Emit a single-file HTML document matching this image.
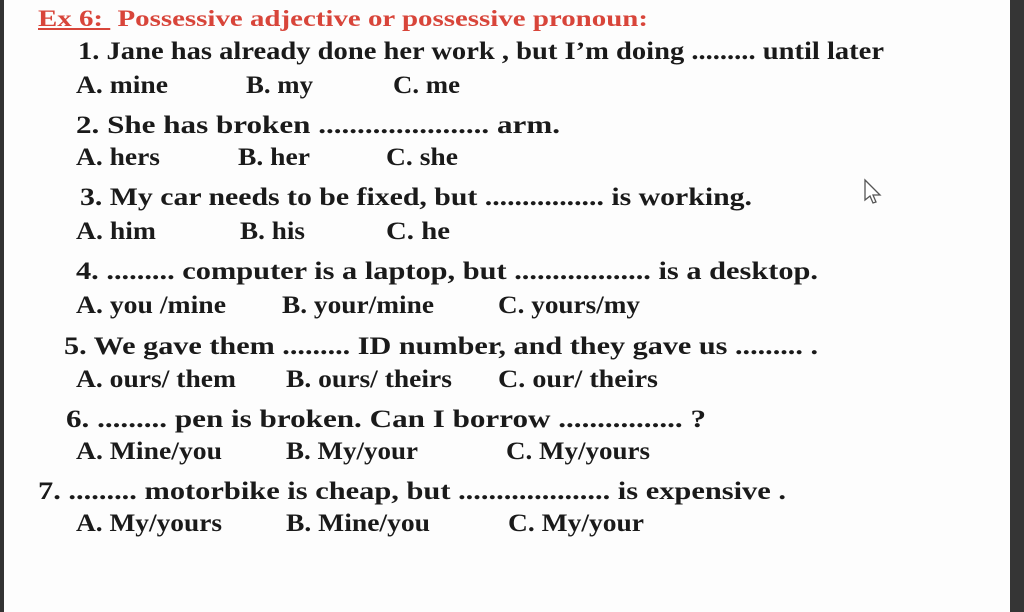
<!DOCTYPE html>
<html><head><meta charset="utf-8"><style>
html,body{margin:0;padding:0;}
body{width:1024px;height:612px;background:#fdfdfd;position:relative;overflow:hidden;font-family:"Liberation Serif",serif;font-weight:bold;font-size:25px;color:#1a1a1a;}
.l{position:absolute;white-space:pre;line-height:26px;transform-origin:0 50%;display:inline-block;}
.r{color:#d8453a;font-size:23px;}
</style></head><body>
<div style="position:absolute;left:0;top:0;width:4px;height:612px;background:#333"></div>
<div style="position:absolute;left:1010px;top:0;width:14px;height:612px;background:#353535"></div>
<div class="l r" style="left:38px;top:6px;--w:610"><u>Ex 6: </u> Possessive adjective or possessive pronoun:</div>
<div class="l" style="left:78px;top:39px;--w:806">1. Jane has already done her work , but I’m doing ......... until later</div>
<div class="l" style="left:76px;top:73px;--w:92">A. mine</div><div class="l" style="left:246px;top:73px;--w:67">B. my</div><div class="l" style="left:393px;top:73px;--w:67">C. me</div>
<div class="l" style="left:76px;top:113px;--w:484">2. She has broken ...................... arm.</div>
<div class="l" style="left:76px;top:145px;--w:84">A. hers</div><div class="l" style="left:238px;top:145px;--w:72">B. her</div><div class="l" style="left:386px;top:145px;--w:72">C. she</div>
<div class="l" style="left:80px;top:185px;--w:672">3. My car needs to be fixed, but ................ is working.</div>
<div class="l" style="left:76px;top:219px;--w:80">A. him</div><div class="l" style="left:240px;top:219px;--w:65">B. his</div><div class="l" style="left:386px;top:219px;--w:64">C. he</div>
<div class="l" style="left:76px;top:259px;--w:742">4. ......... computer is a laptop, but .................. is a desktop.</div>
<div class="l" style="left:76px;top:293px;--w:150">A. you /mine</div><div class="l" style="left:282px;top:293px;--w:152">B. your/mine</div><div class="l" style="left:498px;top:293px;--w:142">C. yours/my</div>
<div class="l" style="left:64px;top:334px;--w:754">5. We gave them ......... ID number, and they gave us ......... .</div>
<div class="l" style="left:76px;top:367px;--w:160">A. ours/ them</div><div class="l" style="left:286px;top:367px;--w:166">B. ours/ theirs</div><div class="l" style="left:498px;top:367px;--w:160">C. our/ theirs</div>
<div class="l" style="left:66px;top:407px;--w:640">6. ......... pen is broken. Can I borrow ................ ?</div>
<div class="l" style="left:76px;top:439px;--w:146">A. Mine/you</div><div class="l" style="left:286px;top:439px;--w:132">B. My/your</div><div class="l" style="left:506px;top:439px;--w:144">C. My/yours</div>
<div class="l" style="left:38px;top:479px;--w:748">7. ......... motorbike is cheap, but .................... is expensive .</div>
<div class="l" style="left:76px;top:511px;--w:146">A. My/yours</div><div class="l" style="left:286px;top:511px;--w:144">B. Mine/you</div><div class="l" style="left:508px;top:511px;--w:136">C. My/your</div>
<svg style="position:absolute;left:862px;top:178px" width="24" height="30" viewBox="0 0 24 30"><path d="M3 2 L3 22 L8 18 L11 25 L14 24 L11 17 L18 17 Z" fill="#fff" stroke="#555" stroke-width="1.3"/></svg>
<script>
document.querySelectorAll('.l').forEach(function(e){
  var w=parseFloat(getComputedStyle(e).getPropertyValue('--w'));
  var a=e.getBoundingClientRect().width;
  if(w&&a) e.style.transform='scaleX('+(w/a)+')';
});
</script>
</body></html>
